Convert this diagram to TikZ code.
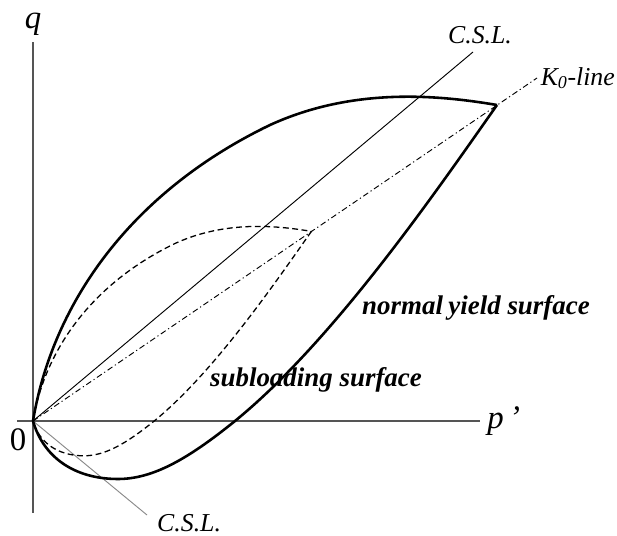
\documentclass[tikz,border=0pt]{standalone}
\usepackage{fontspec}
\setmainfont{Liberation Serif}
\usetikzlibrary{positioning}
\definecolor{axisgray}{HTML}{555555}
\definecolor{cslgray}{HTML}{8A8A8A}

\begin{document}
\begin{tikzpicture}[x=0.03cm, y=0.03cm,
  axis/.style={draw=axisgray, line width=1.1pt},
  csl/.style={line width=0.8pt},
  k0/.style={line width=0.8pt, dash pattern=on 5pt off 2.5pt on 1pt off 2.5pt},
  yieldsurf/.style={line width=2.2pt, line join=miter},
  subsurf/.style={line width=1.1pt, dash pattern=on 5pt off 3pt},
  lbl/.style={font=\fontsize{22}{24}\selectfont\itshape, inner sep=0pt},
  big/.style={font=\fontsize{28}{30}\selectfont\itshape, inner sep=0pt},
  surflbl/.style={font=\fontsize{23}{25}\selectfont\bfseries\itshape, inner sep=0pt}]
  \useasboundingbox (-33,-115) rectangle (584,421);
  \coordinate (O) at (0,0);
  \coordinate (qtop) at (0,379);
  \coordinate (qbot) at (0,-92);
  \coordinate (pleft) at (-16,0);
  \coordinate (pright) at (447,0);
  \coordinate (cslup) at (440,369);
  \coordinate (csldn) at (114,-94);
  \coordinate (k0end) at (504,343);

  \draw[axis] (qbot) -- (qtop);
  \draw[axis] (pleft) -- (pright);
  \node[big, above=5pt of qtop] (q) {q};
  \node[big, right=6pt of pright] (p) {p\,'};
  \node[big, font=\fontsize{28}{30}\selectfont\upshape] (zero) at (-15,-19) {0};

  \draw[csl] (O) -- (cslup);
  \draw[csl, draw=cslgray] (O) -- (csldn);
  \draw[k0] (O) -- (k0end);
  \node[lbl] (csltext) at (447,386) {C.S.L.};
  \node[lbl, anchor=west] (csldntext) at (124,-102) {C.S.L.};
  \node[lbl, right=3pt of k0end] (k0text) {K\textsubscript{0}-line};

  \foreach \s/\st in {1/yieldsurf, 0.6/subsurf} {
    \begin{scope}[scale=\s]
      \draw[\st] (0,0) .. controls (20,120) and (100,230) .. (237,296)
        .. controls (320,334) and (405,326) .. (464,316);
      \draw[\st] (464,316) .. controls (400,225) and (300,80) .. (202,0)
        .. controls (155,-38) and (120,-58) .. (85,-58)
        .. controls (40,-58) and (10,-35) .. (0,0);
    \end{scope}
  }

  \node[surflbl] (normal) at (443,113) {normal\hspace{0.2em}yield surface};
  \node[surflbl] (sub) at (283,41) {subloading surface};
\end{tikzpicture}
\end{document}
